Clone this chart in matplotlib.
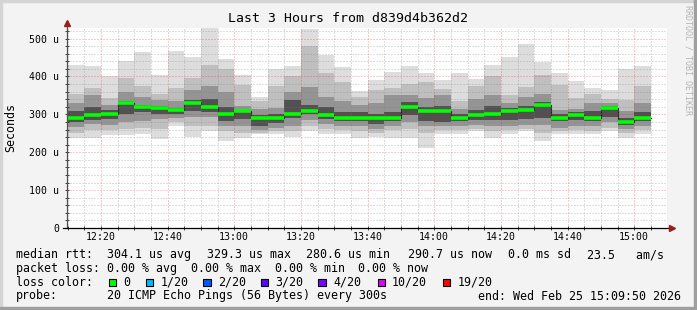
import matplotlib
matplotlib.use("Agg")
import matplotlib.pyplot as plt
import matplotlib.dates as mdates
from matplotlib.patches import Rectangle
from matplotlib.ticker import MultipleLocator, FixedLocator
import numpy as np
import pandas as pd

# ---------------- data ----------------
title = "Last 3 Hours from d839d4b362d2"
day = "2026-02-25"
first_bin = "12:10"
bin_minutes = 5
view_start = "12:09:50"
view_end = "15:09:50"

ping_max = [430, 427, 400, 440, 464, 403, 467, 451, 527, 446, 403, 346, 419, 428, 525, 458, 425, 362,
            391, 412, 427, 410, 391, 410, 393, 430, 452, 485, 439, 410, 389, 369, 364, 419, 427]
upper2 = [355, 370, 344, 395, 375, 355, 370, 395, 430, 420, 378, 335, 375, 400, 480, 410, 385, 345,
          365, 370, 380, 385, 368, 335, 375, 400, 350, 372, 405, 378, 342, 355, 340, 338, 375]
upper3 = [330, 350, 325, 360, 345, 338, 335, 365, 375, 360, 322, 315, 318, 360, 372, 345, 335, 325,
          330, 350, 350, 342, 350, 315, 340, 350, 330, 345, 355, 312, 315, 330, 330, 310, 330]
upper4 = [308, 320, 312, 335, 325, 322, 318, 338, 340, 320, 312, 298, 300, 338, 325, 320, 305, 305,
          300, 305, 333, 320, 322, 300, 312, 322, 318, 322, 333, 300, 305, 310, 322, 290, 305]
median = [290, 299, 302, 329, 319, 318, 311, 329, 319, 301, 309, 290, 290, 300, 310, 299, 290, 290,
          290, 291, 319, 310, 308, 290, 299, 300, 310, 312, 326, 290, 298, 290, 317, 280, 290]
lower4 = [281, 286, 288, 300, 305, 300, 300, 308, 305, 282, 287, 270, 278, 290, 300, 288, 282, 282,
          275, 282, 298, 282, 280, 282, 285, 285, 285, 288, 290, 282, 285, 282, 292, 272, 282]
lower3 = [266, 275, 272, 280, 283, 288, 290, 292, 292, 270, 268, 258, 265, 270, 285, 275, 270, 270,
          262, 270, 280, 268, 268, 270, 273, 270, 270, 273, 272, 265, 270, 268, 280, 262, 270]
lower2 = [250, 258, 259, 262, 265, 262, 280, 270, 270, 255, 252, 252, 255, 255, 268, 262, 258, 255,
          250, 258, 262, 250, 258, 258, 262, 255, 258, 262, 252, 255, 258, 255, 265, 250, 258]
ping_min = [238, 238, 246, 246, 247, 234, 269, 241, 256, 231, 238, 247, 247, 241, 256, 247, 247, 238,
            241, 238, 238, 212, 247, 247, 256, 238, 247, 256, 231, 247, 247, 247, 256, 238, 247]

xtick_labels = ["12:20", "12:40", "13:00", "13:20", "13:40", "14:00", "14:20", "14:40", "15:00"]
ytick_values = [0, 100, 200, 300, 400, 500]
ytick_labels = ["0", "100 u", "200 u", "300 u", "400 u", "500 u"]
y_top = 528
ylabel = "Seconds"
watermark = "RRDTOOL / TOBI OETIKER"

row1 = ["median rtt:", "304.1 us avg", "329.3 us max", "280.6 us min", "290.7 us now",
        "0.0 ms sd", "23.5   am/s"]
row2 = ["packet loss:", "0.00 % avg", "0.00 % max", "0.00 % min", "0.00 % now"]
loss_caption = "loss color:"
loss_labels = ["0", "1/20", "2/20", "3/20", "4/20", "10/20", "19/20"]
loss_colors = ["#00ff00", "#00b8ff", "#0059ff", "#5e00ff", "#7e00ff", "#dd00ff", "#ff0000"]
row4 = ["probe:", "20 ICMP Echo Pings (56 Bytes) every 300s", "end: Wed Feb 25 15:09:50 2026"]

# ---------------- layout ----------------
W, H = 697, 310
plt.rcParams['font.family'] = ['DejaVu Sans Mono', 'DejaVu Sans']

fig = plt.figure(figsize=(W / 100, H / 100), dpi=100, facecolor='#f3f3f3')
def fx(px): return px / W
def fy(py): return 1 - py / H

# 3D-ish frame
fig.patches.append(Rectangle((0, fy(2)), 1, 2 / H, transform=fig.transFigure, color='#d4d4d4', zorder=0))
fig.patches.append(Rectangle((0, 0), 2 / W, 1, transform=fig.transFigure, color='#d4d4d4', zorder=0))
fig.patches.append(Rectangle((0, 0), 1, 3 / H, transform=fig.transFigure, color='#9f9f9f', zorder=0))
fig.patches.append(Rectangle((fx(W - 3), 0), 3 / W, 1, transform=fig.transFigure, color='#9f9f9f', zorder=0))

ax = fig.add_axes([fx(67), fy(228), 600 / W, 200 / H])
ax.set_facecolor('white')
for s in ax.spines.values():
    s.set_visible(False)

t0 = pd.Timestamp(f"{day} {first_bin}")
bins = pd.date_range(t0, periods=len(median), freq=f"{bin_minutes}min")
x = mdates.date2num(bins.to_pydatetime())
w = bin_minutes / 1440.0

bands = [(ping_min, ping_max, '#dddddd'),
         (lower2, upper2, '#bfbfbf'),
         (lower3, upper3, '#949494'),
         (lower4, upper4, '#515151')]
for lo, hi, c in bands:
    lo = np.array(lo, float)
    hi = np.array(hi, float)
    ax.bar(x, hi - lo, width=w, bottom=lo, align='edge', color=c, linewidth=0, zorder=1)

edges = np.append(x, x[-1] + w)
vals = np.append(median, median[-1])
ax.step(edges, vals, where='post', color='#202020', lw=0.8, zorder=2)
ax.hlines(median, x, x + w, colors=loss_colors[0], lw=2.6, zorder=3)

xs = mdates.date2num(pd.Timestamp(f"{day} {view_start}").to_pydatetime())
xe = mdates.date2num(pd.Timestamp(f"{day} {view_end}").to_pydatetime())
ax.set_xlim(xs, xe)
ax.set_ylim(0, y_top)

xt = [mdates.date2num(pd.Timestamp(f"{day} {l}").to_pydatetime()) for l in xtick_labels]
ax.xaxis.set_major_locator(FixedLocator(xt))
ax.set_xticklabels(xtick_labels)
ax.xaxis.set_minor_locator(mdates.MinuteLocator(byminute=range(0, 60, 5)))
ax.set_yticks(ytick_values)
ax.set_yticklabels(ytick_labels)
ax.yaxis.set_minor_locator(MultipleLocator(20))

ax.set_axisbelow(False)
ax.grid(which='major', color='#ff0000', alpha=0.4, lw=0.72, ls=(0, (1, 2)), zorder=2.5)
ax.grid(which='minor', color='#808080', alpha=0.5, lw=0.72, ls=(0, (1, 2)), zorder=2.5)
ax.tick_params(which='both', direction='inout', length=2.2, width=0.72, color='#404040',
               labelsize=7.1, labelcolor='black')
ax.tick_params(axis='x', pad=2.0)
ax.tick_params(axis='y', pad=4.5)

# axis lines + arrows
ax.plot([0, 0], [0, 1.025], transform=ax.transAxes, color='#505050', lw=0.9, clip_on=False, zorder=5)
ax.plot([-4 / 600, 1.01], [0, 0], transform=ax.transAxes, color='black', lw=0.9, clip_on=False, zorder=5)
ax.plot([0], [1.025], marker='^', ms=4.5, color='#9b1c1c', transform=ax.transAxes, clip_on=False, zorder=6)
ax.plot([1.008], [0], marker='>', ms=4.5, color='#9b1c1c', transform=ax.transAxes, clip_on=False, zorder=6)

# titles
fig.text(fx(348.5), fy(19), title, ha='center', va='center', fontsize=9.5)
fig.text(fx(11), fy(128), ylabel, ha='center', va='center', rotation=90, fontsize=8.4)
fig.text(fx(688), fy(5), watermark, ha='center', va='top', rotation=270, fontsize=6, color='#b4b4b4')

# legend rows
leg = 8.4
row1_x = [16, 107.3, 207.3, 306.3, 408.3, 507.7, 586.7]
for s, px in zip(row1, row1_x):
    fig.text(fx(px), fy(254.7), s, ha='left', va='center', fontsize=leg)
row2_x = [16, 107.3, 191, 274.7, 358.3]
for s, px in zip(row2, row2_x):
    fig.text(fx(px), fy(268.3), s, ha='left', va='center', fontsize=leg)
fig.text(fx(16), fy(282.3), loss_caption, ha='left', va='center', fontsize=leg)
sq_x = [108.7, 145.7, 203.3, 260.7, 318.3, 377.7, 442.7]
lab_x = [123.3, 160.7, 218, 275.3, 333.3, 391.7, 457.3]
for lab, col, sx, lx in zip(loss_labels, loss_colors, sq_x, lab_x):
    fig.patches.append(Rectangle((fx(sx), fy(282.3 + 3.6)), 7.2 / W, 7.2 / H, transform=fig.transFigure,
                                 facecolor=col, edgecolor='black', lw=0.8, zorder=3))
    fig.text(fx(lx), fy(282.3), lab, ha='left', va='center', fontsize=leg)
row4_x = [16, 107.3, 478.3]
for s, px in zip(row4, row4_x):
    fig.text(fx(px), fy(296), s, ha='left', va='center', fontsize=leg)

fig.savefig("out.png", dpi=100, facecolor=fig.get_facecolor())
